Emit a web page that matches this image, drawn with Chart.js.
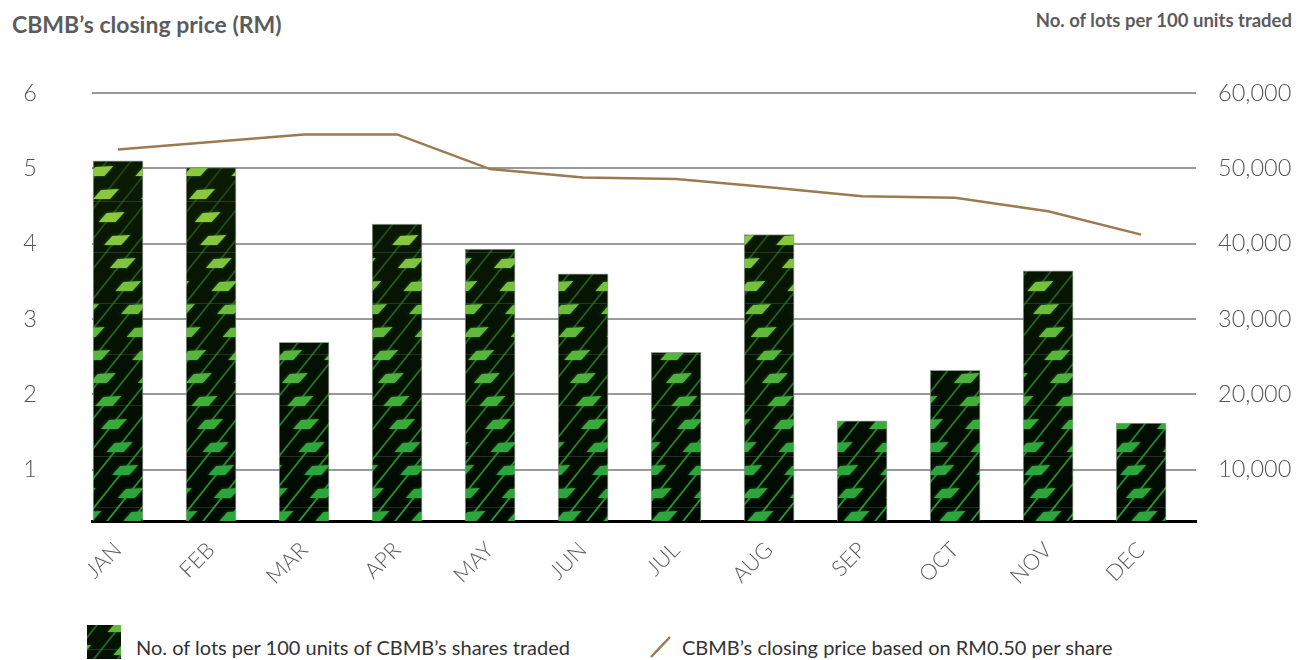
<!DOCTYPE html>
<html>
<head>
<meta charset="utf-8">
<script src="https://cdn.jsdelivr.net/npm/chart.js@4"></script>
<style>
  body { margin: 0; width: 1297px; height: 660px; position: relative; background: #fff; overflow: hidden; font-family: Lato, sans-serif; }
  .ttl { position: absolute; font-family: Lato, sans-serif; font-weight: bold; color: #5c5c5c; white-space: nowrap; }
  #wrap { position: absolute; left: 0; top: 0; width: 1297px; height: 610px; }
  .lg { position: absolute; font: 20px Lato, sans-serif; color: #333; white-space: nowrap; }
</style>
</head>
<body>
<div class="ttl" style="left:12px;top:10px;font-size:23px">CBMB’s closing price (RM)</div>
<div class="ttl" style="right:5px;top:9px;font-size:18.5px">No. of lots per 100 units traded</div>
<div id="wrap"><canvas id="chart"></canvas></div>
<canvas id="lgBox" width="34" height="34" style="position:absolute;left:87px;top:625px"></canvas>
<div class="lg" style="left:136px;top:635px">No. of lots per 100 units of CBMB’s shares traded</div>
<svg width="22" height="24" style="position:absolute;left:650px;top:635px">
  <line x1="1" y1="22" x2="20" y2="2" stroke="#9c7a4f" stroke-width="2.5"/>
</svg>
<div class="lg" style="left:682px;top:635px">CBMB’s closing price based on RM0.50 per share</div>

<script>
const months = ["JAN", "FEB", "MAR", "APR", "MAY", "JUN", "JUL", "AUG", "SEP", "OCT", "NOV", "DEC"];
const lots = [51000, 50100, 26900, 42600, 39300, 36000, 25600, 41200, 16500, 23200, 36400, 16200];
const price = [5.25, 5.35, 5.45, 5.45, 4.99, 4.88, 4.86, 4.75, 4.63, 4.61, 4.43, 4.12];
const priceTicks = [1, 2, 3, 4, 5, 6];
const lotTicks = [10000, 20000, 30000, 40000, 50000, 60000];

// dark green tile with slanted light-green flecks, lighter towards the top
function makeTile() {
  const w = 48, h = 620;
  const c = document.createElement("canvas");
  c.width = w; c.height = h;
  const g = c.getContext("2d");
  const bg = g.createLinearGradient(0, 150, 0, 521);
  bg.addColorStop(0, "#0b1c05");
  bg.addColorStop(1, "#000900");
  g.fillStyle = bg;
  g.fillRect(0, 0, w, h);

  // faint horizontal seams
  g.fillStyle = "rgba(110,130,110,0.3)";
  for (let y = 48; y < h; y += 51) g.fillRect(0, y, w, 1);

  // thin diagonal strokes
  const ln = g.createLinearGradient(0, 150, 0, 521);
  ln.addColorStop(0, "rgba(70,120,40,0.35)");
  ln.addColorStop(1, "rgba(40,160,55,0.95)");
  g.strokeStyle = ln;
  g.lineWidth = 1.8;
  const slope = 1.25;
  for (let x0 = -h; x0 < w + h; x0 += 24) {
    g.beginPath();
    g.moveTo(x0, h);
    g.lineTo(x0 + h / slope, 0);
    g.stroke();
  }

  // flecks
  const top = [140, 200, 62], bot = [44, 165, 60];
  g.shadowColor = "rgba(60,170,60,0.6)";
  g.shadowBlur = 3;
  for (let r = 0; r * 23 < h; r++) {
    const y = 6 + r * 23;
    const t = Math.min(1, Math.max(0, (y - 230) / 220));
    const col = top.map((v, i) => Math.round(v + (bot[i] - v) * t));
    g.fillStyle = `rgb(${col.join(",")})`;
    let x = ((h - y) / slope + (r % 2) * 24) % 48;
    for (const dx of [-48, 0, 48]) {
      const bx = x + dx - 11;
      g.beginPath();
      g.moveTo(bx, y + 9);
      g.lineTo(bx + 8, y);
      g.lineTo(bx + 26, y - 1);
      g.lineTo(bx + 17, y + 9);
      g.closePath();
      g.fill();
    }
  }
  return c;
}

const tile = makeTile();
const ctx = document.getElementById("chart").getContext("2d");
const barFill = ctx.createPattern(tile, "repeat");

// legend swatch uses the lower part of the same tile
(function () {
  const g = document.getElementById("lgBox").getContext("2d");
  g.fillStyle = g.createPattern(tile, "repeat");
  g.translate(-10, -330);
  g.fillRect(10, 330, 34, 34);
})();

const tickFont = { family: "Lato", weight: "300", size: 23.5 };

new Chart(ctx, {
  data: {
    labels: months.map((m, i) => i),
    datasets: [
      {
        type: "line",
        label: "CBMB’s closing price based on RM0.50 per share",
        data: price,
        yAxisID: "y",
        borderColor: "#9c7a4f",
        borderWidth: 2.5,
        pointRadius: 0,
        tension: 0,
        order: 0,
      },
      {
        type: "bar",
        label: "No. of lots per 100 units of CBMB’s shares traded",
        data: lots,
        yAxisID: "y1",
        backgroundColor: barFill,
        borderColor: "rgba(125,140,120,0.8)",
        borderWidth: { top: 1, left: 1, right: 1, bottom: 0 },
        borderSkipped: false,
        barThickness: 50,
        order: 1,
      },
    ],
  },
  options: {
    responsive: true,
    maintainAspectRatio: false,
    animation: false,
    layout: { padding: { top: 93, left: 0, right: 0, bottom: 0 } },
    plugins: {
      legend: { display: false },
      tooltip: { enabled: false },
    },
    scales: {
      x: {
        type: "linear",
        offset: false,
        min: -0.28,
        max: 11.59,
        afterBuildTicks: (s) => { s.ticks = months.map((m, i) => ({ value: i })); },
        afterFit: (s) => { s.height = 89; },
        grid: { display: false },
        border: { display: true, color: "#000", width: 3 },
        ticks: {
          callback: (v) => months[v],
          autoSkip: false,
          minRotation: 45,
          maxRotation: 45,
          padding: 8,
          color: "#5e5e5e",
          font: { family: "Lato", weight: "300", size: 22 },
        },
      },
      y: {
        position: "left",
        min: 0.32,
        max: 6,
        afterBuildTicks: (s) => { s.ticks = priceTicks.map((v) => ({ value: v })); },
        afterFit: (s) => { s.width = 92; },
        grid: { color: "#999", lineWidth: 2, drawTicks: false },
        border: { display: false },
        ticks: { padding: 55, color: "#555", font: tickFont },
      },
      y1: {
        position: "right",
        min: 3200,
        max: 60000,
        afterBuildTicks: (s) => { s.ticks = lotTicks.map((v) => ({ value: v })); },
        afterFit: (s) => { s.width = 101; },
        grid: { display: false, drawTicks: false },
        border: { display: false },
        ticks: {
          padding: 22,
          color: "#555",
          font: tickFont,
          callback: (v) => v.toLocaleString("en-US"),
        },
      },
    },
  },
});
</script>
</body>
</html>
